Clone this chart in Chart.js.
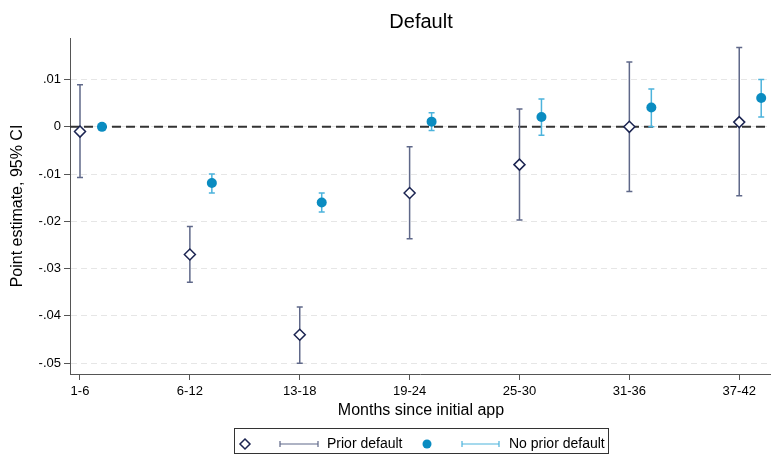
<!DOCTYPE html>
<html lang="en">
<head>
    <meta charset="UTF-8">
    <title>Default</title>
    <script src="https://cdn.jsdelivr.net/npm/chart.js@4.4.0/dist/chart.umd.min.js"></script>
    <style>
        html, body { margin: 0; padding: 0; background: #fff; }
        #chart { display: block; }
    </style>
</head>
<body>
    <canvas id="chart" width="771" height="455"></canvas>
    <script>
        // Chart values
        const categories = ['1-6', '6-12', '13-18', '19-24', '25-30', '31-36', '37-42'];
        const priorEst = [-0.001, -0.027, -0.044, -0.014, -0.008, 0.000, 0.001];
        const priorLo = [-0.0107, -0.0329, -0.0500, -0.0237, -0.0197, -0.0137, -0.0146];
        const priorHi = [0.0089, -0.0211, -0.0381, -0.0042, 0.0038, 0.0137, 0.0168];
        const noPriorEst = [0.000, -0.0119, -0.0160, 0.0011, 0.0021, 0.0041, 0.0061];
        const noPriorLo = [0.000, -0.0140, -0.0180, -0.0008, -0.0018, 0.0000, 0.0021];
        const noPriorHi = [0.000, -0.0100, -0.0140, 0.0030, 0.0059, 0.0080, 0.0100];
        const yTickValues = [0.01, 0, -0.01, -0.02, -0.03, -0.04, -0.05];

        const FONT = '"Liberation Sans", Arial, sans-serif';
        const NAVY = '#1b2451';
        const SLATE = '#5f6889';
        const BLUE = '#0a8cc1';
        const LIGHTBLUE = '#4cb3dc';
        const shift = 0.2;

        const priorPts = categories.map((c, i) => ({ x: i + 1, y: priorEst[i] }));
        const noPriorPts = categories.map((c, i) => ({ x: i + 1 + shift, y: noPriorEst[i] }));

        function fmtTick(v) {
            if (Math.abs(v) < 1e-9) return '0';
            const s = v.toFixed(2);
            return s.replace('0.', '.');
        }

        // error bars + zero line, drawn under the markers
        const errorBars = {
            id: 'errorBars',
            beforeDatasetsDraw(chart) {
                const ctx = chart.ctx;
                const xs = chart.scales.x, ys = chart.scales.y;
                const area = chart.chartArea;
                ctx.save();
                // zero reference line
                ctx.strokeStyle = '#333';
                ctx.lineWidth = 2;
                ctx.setLineDash([9, 5]);
                const y0 = ys.getPixelForValue(0);
                ctx.beginPath();
                ctx.moveTo(area.left, y0);
                ctx.lineTo(area.right, y0);
                ctx.stroke();
                ctx.setLineDash([]);

                const drawBar = (x, lo, hi, color) => {
                    if (hi - lo < 1e-6) return;
                    const px = xs.getPixelForValue(x);
                    const pl = ys.getPixelForValue(lo);
                    const ph = ys.getPixelForValue(hi);
                    ctx.strokeStyle = color;
                    ctx.lineWidth = 1.5;
                    ctx.beginPath();
                    ctx.moveTo(px, pl); ctx.lineTo(px, ph);
                    ctx.moveTo(px - 3, pl); ctx.lineTo(px + 3, pl);
                    ctx.moveTo(px - 3, ph); ctx.lineTo(px + 3, ph);
                    ctx.stroke();
                };
                categories.forEach((c, i) => {
                    drawBar(i + 1, priorLo[i], priorHi[i], SLATE);
                    drawBar(i + 1 + shift, noPriorLo[i], noPriorHi[i], LIGHTBLUE);
                });
                ctx.restore();
            }
        };

        // titles and the legend box
        const decorations = {
            id: 'decorations',
            afterDraw(chart) {
                const ctx = chart.ctx;
                const area = chart.chartArea;
                ctx.save();
                ctx.fillStyle = '#000';
                ctx.textAlign = 'center';
                ctx.textBaseline = 'middle';
                ctx.font = '20px ' + FONT;
                ctx.fillText('Default', 421, 22);

                ctx.font = '16px ' + FONT;
                ctx.fillText('Months since initial app', 421, 411);

                ctx.save();
                ctx.translate(18, (area.top + area.bottom) / 2);
                ctx.rotate(-Math.PI / 2);
                ctx.fillText('Point estimate, 95% CI', 0, 0);
                ctx.restore();

                // legend
                const lx = 234, ly = 428, lw = 374, lh = 25;
                const cy = 444;
                ctx.strokeStyle = '#333';
                ctx.lineWidth = 1;
                ctx.strokeRect(lx + 0.5, ly + 0.5, lw, lh);

                // diamond
                ctx.strokeStyle = NAVY;
                ctx.fillStyle = '#fff';
                ctx.lineWidth = 1.5;
                ctx.beginPath();
                ctx.moveTo(245, cy - 5); ctx.lineTo(250, cy); ctx.lineTo(245, cy + 5); ctx.lineTo(240, cy);
                ctx.closePath();
                ctx.fill(); ctx.stroke();

                const legendBar = (x1, x2, color) => {
                    ctx.strokeStyle = color;
                    ctx.lineWidth = 1.2;
                    ctx.beginPath();
                    ctx.moveTo(x1, cy); ctx.lineTo(x2, cy);
                    ctx.moveTo(x1, cy - 3); ctx.lineTo(x1, cy + 3);
                    ctx.moveTo(x2, cy - 3); ctx.lineTo(x2, cy + 3);
                    ctx.stroke();
                };
                legendBar(280, 318, SLATE);
                legendBar(462, 499, LIGHTBLUE);

                ctx.fillStyle = BLUE;
                ctx.beginPath();
                ctx.arc(427, cy, 4.5, 0, Math.PI * 2);
                ctx.fill();

                ctx.fillStyle = '#000';
                ctx.font = '14px ' + FONT;
                ctx.textAlign = 'left';
                ctx.fillText('Prior default', 327, cy);
                ctx.fillText('No prior default', 509, cy);
                ctx.restore();
            }
        };

        new Chart(document.getElementById('chart'), {
            type: 'scatter',
            data: {
                datasets: [
                    {
                        label: 'Prior default',
                        data: priorPts,
                        pointStyle: 'rectRot',
                        pointRadius: 5.5,
                        pointBackgroundColor: '#fff',
                        pointBorderColor: NAVY,
                        pointBorderWidth: 1.5
                    },
                    {
                        label: 'No prior default',
                        data: noPriorPts,
                        pointStyle: 'circle',
                        pointRadius: 5,
                        pointBackgroundColor: BLUE,
                        pointBorderColor: BLUE,
                        pointBorderWidth: 0
                    }
                ]
            },
            options: {
                responsive: false,
                animation: false,
                devicePixelRatio: 1,
                layout: { autoPadding: false, padding: { top: 38, left: 0, right: 1, bottom: 0 } },
                plugins: {
                    legend: { display: false },
                    title: { display: false },
                    tooltip: { enabled: false }
                },
                scales: {
                    x: {
                        type: 'linear',
                        min: 0.909,
                        max: 7.28,
                        afterBuildTicks: s => { s.ticks = categories.map((c, i) => ({ value: i + 1 })); },
                        afterFit: s => { s.height = 81; s.paddingLeft = 0; s.paddingRight = 0; },
                        grid: { drawOnChartArea: false, tickLength: 6, tickColor: '#555', color: '#555' },
                        border: { color: '#555', width: 1 },
                        ticks: {
                            padding: 4,
                            color: '#000',
                            font: { family: FONT, size: 13 },
                            maxRotation: 0,
                            callback: v => categories[Math.round(v) - 1]
                        }
                    },
                    y: {
                        min: -0.0523,
                        max: 0.0188,
                        afterBuildTicks: s => { s.ticks = yTickValues.map(v => ({ value: v })); },
                        afterFit: s => { s.width = 70; },
                        grid: { color: '#e6e6e6', lineWidth: 1, tickLength: 6, tickColor: '#555' },
                        border: { color: '#555', width: 1, dash: [6, 4] },
                        ticks: {
                            padding: 3,
                            color: '#000',
                            font: { family: FONT, size: 13 },
                            callback: v => fmtTick(v)
                        }
                    }
                }
            },
            plugins: [errorBars, decorations]
        });
    </script>
</body>
</html>
